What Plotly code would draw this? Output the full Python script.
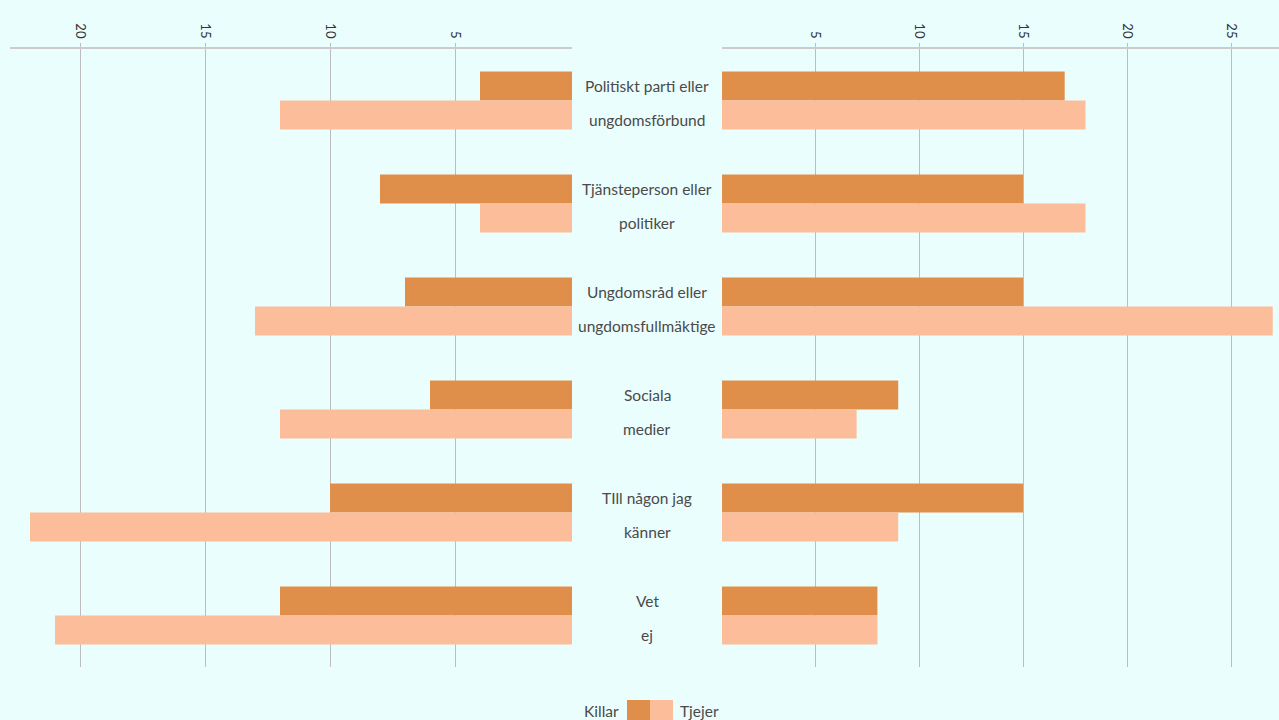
import plotly.graph_objects as go

categories_l1 = ["Politiskt parti eller", "Tjänsteperson eller", "Ungdomsråd eller", "Sociala", "TIll någon jag", "Vet"]
categories_l2 = ["ungdomsförbund", "politiker", "ungdomsfullmäktige", "medier", "känner", "ej"]
series_names = ["Killar", "Tjejer"]

left_killar = [4, 8, 7, 6, 10, 12]
left_tjejer = [12, 4, 13, 12, 22, 21]
right_killar = [17, 15, 15, 9, 15, 8]
right_tjejer = [18, 18, 27, 7, 9, 8]

left_ticks = [5, 10, 15, 20]
right_ticks = [5, 10, 15, 20, 25]

C_K = "#E08F4A"
C_T = "#FCBD9B"
BG = "#EAFEFD"
FONT = "Lato"
W, H = 1279, 720
TOP, BOT = 49, 53

ypos = list(range(len(categories_l1)))

fig = go.Figure()
for vals, col, name, xa in [
    (left_killar, C_K, series_names[0], "x"),
    (left_tjejer, C_T, series_names[1], "x"),
    (right_killar, C_K, series_names[0], "x2"),
    (right_tjejer, C_T, series_names[1], "x2"),
]:
    fig.add_trace(go.Bar(
        x=vals, y=ypos, orientation="h", name=name, xaxis=xa, yaxis="y",
        marker=dict(color=col, line=dict(width=0)), showlegend=False,
        hoverinfo="x+name",
    ))

axis_common = dict(
    side="top", showgrid=True, gridcolor="#BDBDBD", gridwidth=1,
    showline=True, linecolor="#CCCCCC", linewidth=2,
    ticks="outside", ticklen=4, tickcolor="#BDBDBD",
    zeroline=False,
    tickfont=dict(family=FONT, size=13, color="#333333"),
    anchor="y",
)
fig.update_layout(
    width=W, height=H,
    paper_bgcolor=BG, plot_bgcolor=BG,
    margin=dict(l=0, r=0, t=TOP, b=BOT),
    barmode="group", bargap=0.437, bargroupgap=0,
    xaxis=dict(domain=[10 / W, 572 / W], range=[22.8, 0.32],
               tickvals=left_ticks, **axis_common),
    xaxis2=dict(domain=[722 / W, 1.0], range=[0.53, 27.3],
                tickvals=right_ticks, **axis_common),
    yaxis=dict(range=[len(ypos) - 0.5, -0.5], showticklabels=False,
               showgrid=False, zeroline=False, showline=False),
    font=dict(family=FONT, color="#4A4A4A"),
)
fig.update_xaxes(tickangle=90)

LBL = 15.5
for i, (a, b) in enumerate(zip(categories_l1, categories_l2)):
    for txt, sh in [(a, 15), (b, -19)]:
        fig.add_annotation(x=647 / W, xref="paper", y=i, yref="y", yshift=sh,
                           text=txt, showarrow=False, xanchor="center",
                           font=dict(family=FONT, size=LBL, color="#4A4A4A"))

ph = H - TOP - BOT
def py(px):
    return (H - BOT - px) / ph

fig.add_shape(type="rect", xref="paper", yref="paper", x0=627 / W, x1=650 / W,
              y0=py(700), y1=py(722), fillcolor=C_K, line=dict(width=0), layer="above")
fig.add_shape(type="rect", xref="paper", yref="paper", x0=650 / W, x1=673 / W,
              y0=py(700), y1=py(722), fillcolor=C_T, line=dict(width=0), layer="above")
fig.add_annotation(x=621 / W, xref="paper", y=py(711), yref="paper", text=series_names[0],
                   showarrow=False, xanchor="right", yanchor="middle",
                   font=dict(family=FONT, size=LBL, color="#4A4A4A"))
fig.add_annotation(x=678 / W, xref="paper", y=py(711), yref="paper", text=series_names[1],
                   showarrow=False, xanchor="left", yanchor="middle",
                   font=dict(family=FONT, size=LBL, color="#4A4A4A"))

fig.write_html("out.html", config={"displayModeBar": False},
               post_script="document.body.style.margin='0';document.body.style.background='%s';" % BG)
